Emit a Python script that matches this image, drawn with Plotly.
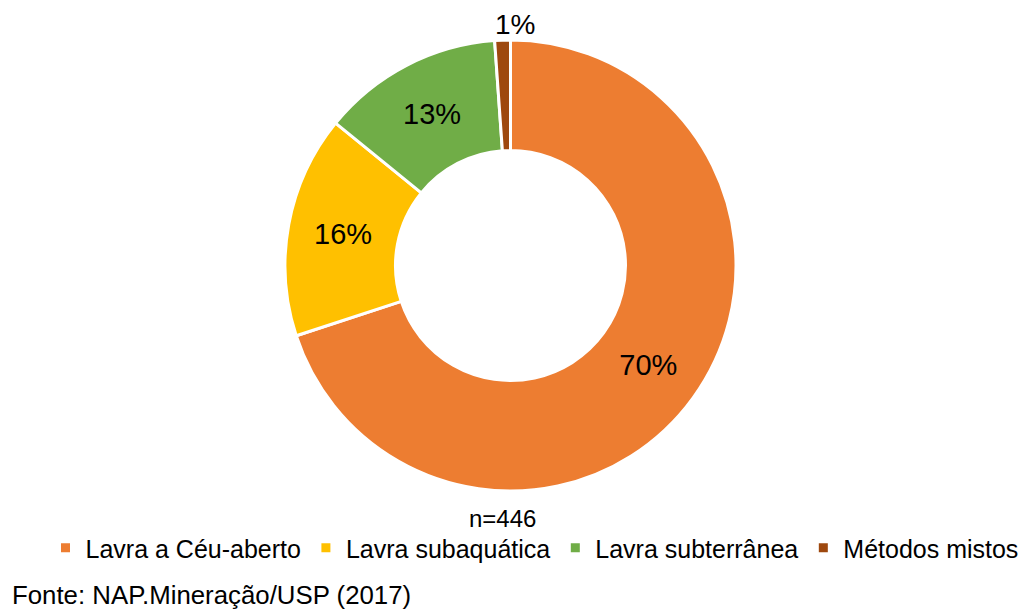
import plotly.graph_objects as go

categories = ["Lavra a Céu-aberto", "Lavra subaquática", "Lavra subterrânea", "Métodos mistos"]
counts = [312, 71, 58, 5]
colors = ["#ED7D31", "#FFC000", "#70AD47", "#9E480E"]
text_positions = ["inside", "inside", "inside", "none"]
n_total = 446
source_text = "Fonte: NAP.Mineração/USP (2017)"

W, H = 1032, 612
OFF = 8  # page body margin offset
FONT = "Liberation Sans, Arial, sans-serif"

def px(x):
    return (x - OFF) / W

def py(y):
    return 1 - (y - OFF) / H

small_pct = f"{round(100 * counts[3] / sum(counts))}%"

fig = go.Figure(go.Pie(
    labels=categories,
    values=counts,
    marker=dict(colors=colors, line=dict(color="white", width=3)),
    hole=0.51,
    sort=False,
    direction="clockwise",
    rotation=0,
    texttemplate="%{percent:.0%}",
    textposition=text_positions,
    insidetextorientation="horizontal",
    textfont=dict(family=FONT, size=29, color="black"),
    domain=dict(x=[px(285), px(736)], y=[py(491), py(40)]),
    hoverinfo="label+value+percent",
))

fig.update_layout(
    width=W, height=H,
    margin=dict(l=0, r=0, t=0, b=0),
    paper_bgcolor="white",
    plot_bgcolor="white",
    font=dict(family=FONT, color="black"),
    showlegend=True,
    legend=dict(
        orientation="h",
        x=px(534.5), xanchor="center",
        y=py(548), yanchor="middle",
        font=dict(family=FONT, size=25, color="black"),
        itemwidth=30,
        tracegroupgap=0,
    ),
    annotations=[
        dict(text=small_pct, x=px(515), y=py(24), xref="paper", yref="paper",
             xanchor="center", yanchor="middle", showarrow=False, borderpad=0,
             font=dict(family=FONT, size=28, color="black")),
        dict(text=f"n={n_total}", x=px(502), y=py(518), xref="paper", yref="paper",
             xanchor="center", yanchor="middle", showarrow=False,
             font=dict(family=FONT, size=24, color="black")),
        dict(text=source_text, x=px(10), y=py(595), xref="paper", yref="paper",
             xanchor="left", yanchor="middle", showarrow=False,
             font=dict(family=FONT, size=25.8, color="black")),
    ],
)

fig.write_html("out.html")
